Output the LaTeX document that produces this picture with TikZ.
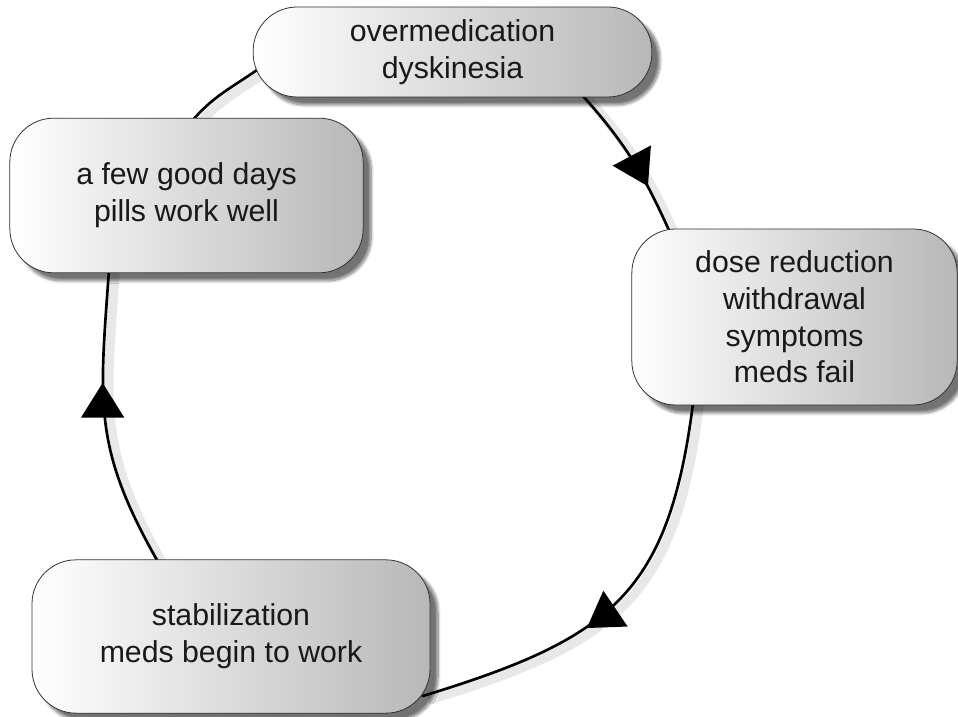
\documentclass[tikz,border=0pt]{standalone}
\usepackage{fontspec}
\setmainfont{Liberation Sans}
\usetikzlibrary{arrows.meta, decorations.markings, shadows.blur, backgrounds}

\tikzset{arrowat/.style={decoration={markings,
        mark=at position #1 with {\arrow{Triangle[length=26pt, width=32pt]}}},
        postaction={decorate}}}

\begin{document}
\begin{tikzpicture}[x = 0.75pt, y = 0.75pt, % one unit is one pixel
                font = \fontsize{22.7}{27.5}\selectfont
            ]

            \tikzstyle{phase}=[draw = black!80, line width = 0.6pt,
            rounded corners = 33pt, inner sep = 0pt, align = center,
            text = black!90, left color = white, right color = black!28,
            blur shadow = {shadow xshift = 6pt, shadow yshift = -6pt,
            shadow blur steps = 10, shadow opacity = 55}]
            \tikzstyle{ring}=[draw = black, line width = 2pt, line cap = round,
            shorten < = -6pt, shorten > = -6pt] % run into the boxes
            \tikzstyle{ringshade}=[draw = black!9, line width = 7pt,
            shorten < = -6pt, shorten > = -6pt,
            transform canvas = {shift = {(4.5pt,-3pt)}}]

            \useasboundingbox (0,0) rectangle (958,717);

            \node[phase, minimum width = 299pt, minimum height = 67.5pt] (over)
            at (452.5,665) {overmedication\\dyskinesia};
            \node[phase, minimum width = 244pt, minimum height = 132pt] (dose)
            at (794.5,400) {dose reduction\\withdrawal\\symptoms\\meds fail};
            \node[phase, minimum width = 265pt, minimum height = 116pt] (few)
            at (186.5,521.5) {a few good days\\pills work well};
            \node[phase, minimum width = 298.5pt, minimum height = 115pt] (stab)
            at (231,80.5) {stabilization\\meds begin to work};

            \begin{pgfonlayer}{background}
            % soft shade of the cycle
            \path[ringshade] (few.84) to[out = 50, in = -145] (over.186);
            \path[ringshade] (over.-19.7) to[out = -48, in = 114] (dose.145);
            \path[ringshade] (dose.-139) to[out = -97, in = 17,
            looseness = 1.25] (stab.-16);
            \path[ringshade] (stab.134) to[out = 120, in = -94,
            looseness = 1.15] (few.-135);
            % the cycle itself
            \draw[ring] (few.84) to[out = 50, in = -145] (over.186);
            \draw[ring, arrowat = 0.7] (over.-19.7) to[out = -48, in = 114]
            (dose.145);
            \draw[ring, arrowat = 0.6] (dose.-139) to[out = -97, in = 17,
            looseness = 1.25] (stab.-16);
            \draw[ring, arrowat = 0.63] (stab.134) to[out = 120, in = -94,
            looseness = 1.15] (few.-135);
            \end{pgfonlayer}

        \end{tikzpicture}
\end{document}
